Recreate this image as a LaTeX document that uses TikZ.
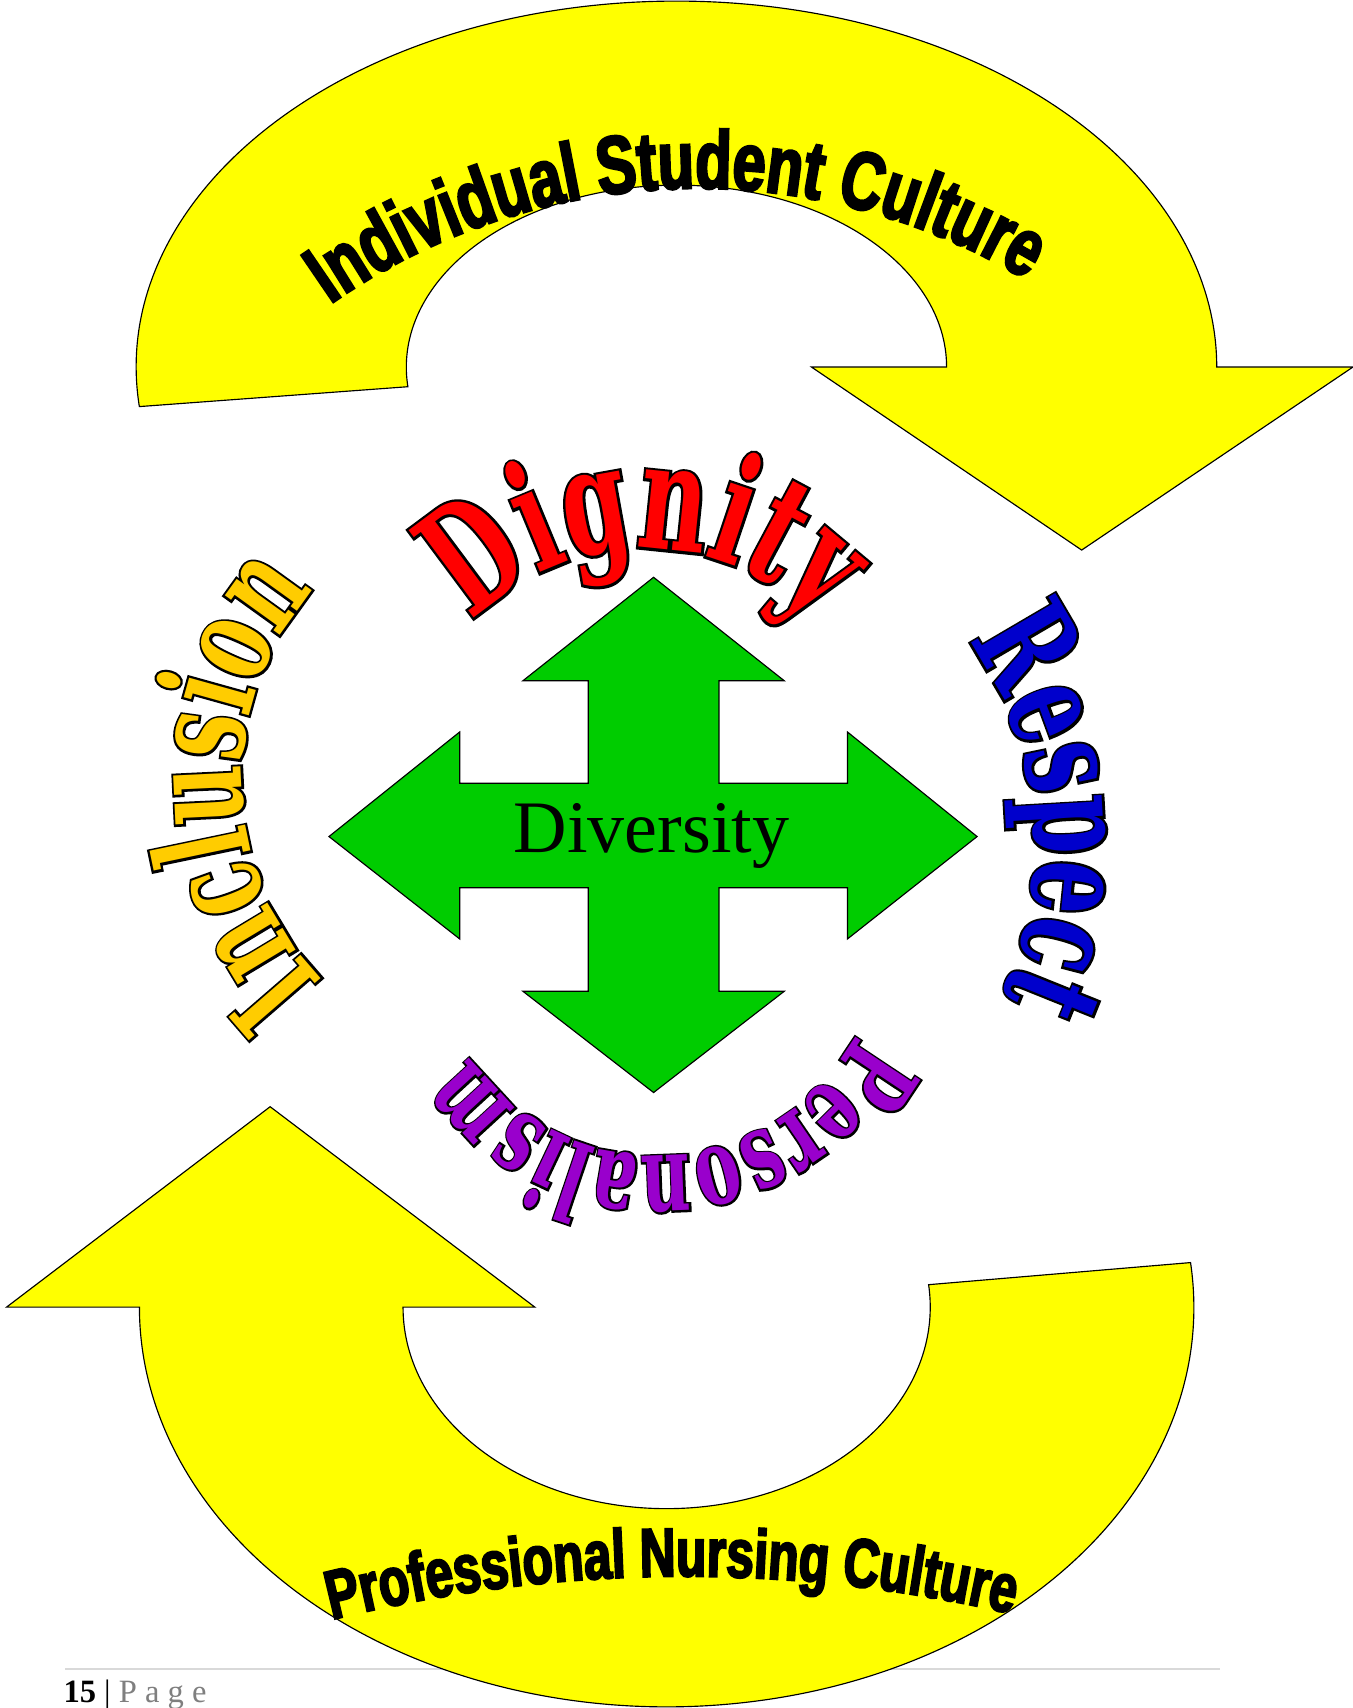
\documentclass[tikz,border=0pt]{standalone}
\usepackage{fontspec}
\usetikzlibrary{decorations.text}
\setmainfont{Liberation Serif}
\newfontfamily\slabfont{DejaVu Serif}[FakeStretch=0.63]
\newfontfamily\slabline{DejaVu Serif}[FakeStretch=0.63,FakeBold=3.5]
\newfontfamily\heavyfont{Liberation Sans}[FakeStretch=0.72,FakeBold=3]
\definecolor{bandyellow}{HTML}{FFFF00}
\definecolor{crossgreen}{HTML}{00CC00}
\definecolor{dignityred}{HTML}{FF0000}
\definecolor{respectblue}{HTML}{0000CC}
\definecolor{personpurple}{HTML}{9900CC}
\definecolor{inclusiongold}{HTML}{FFCC00}
\definecolor{rulegray}{HTML}{D9D9D9}
\definecolor{pagegray}{HTML}{7F7F7F}
\tikzset{
  band/.style={
    draw = black,
    line width = 0.6pt,
    fill = bandyellow
  },
  cross/.style={
    draw = black,
    line width = 0.6pt,
    fill = crossgreen
  },
  culture/.style={
    decorate,
    decoration={text along path, text align=center}
  },
}
% arched word with a black rim: colour, size, word, path
\newcommand{\rimword}[4]{%
  \path[decorate,decoration={text along path,text align=center,text color=black,
    text={|\slabline\bfseries\fontsize{#2}{#2}\selectfont|#3}}] #4;
  \path[decorate,decoration={text along path,text align=center,text color=#1,
    text={|\slabfont\bfseries\fontsize{#2}{#2}\selectfont|#3}}] #4;
}

\begin{document}
\begin{tikzpicture}[x=0.02cm,y=0.02cm]
\useasboundingbox (0,0) rectangle (1242,1568);
% page footer
\draw[rulegray,line width=1pt] (60,36) -- (1120,36);
\node[anchor=base west,inner sep=0,font=\fontsize{17}{17}\selectfont] (pagenum) at (58,5)
  {\textbf{15} | \textcolor{pagegray}{P a g e}};
% the two yellow bands
\draw[band] (621,1231) ++(186.2:496 and 336)
  arc[start angle=186.2,end angle=0,x radius=496,y radius=336]
  -- (1242,1231) -- (993,1063) -- (745,1231) -- (869,1231)
  arc[start angle=0,end angle=186.2,x radius=248,y radius=167] -- cycle;
\draw[band] (612,368) ++(6.4:484 and 367)
  arc[start angle=6.4,end angle=-180,x radius=484,y radius=367]
  -- (6,368) -- (248,552) -- (491,368) -- (370,368)
  arc[start angle=180,end angle=366.4,x radius=242,y radius=185] -- cycle;
% four-way arrow
\draw[cross] (600,1038) -- (720,943) -- (660,943) -- (660,849) -- (778,849)
  -- (778,896) -- (897,800) -- (778,706) -- (778,753) -- (660,753)
  -- (660,658) -- (720,658) -- (600,565) -- (480,658) -- (540,658)
  -- (540,753) -- (422,753) -- (422,706) -- (302,800) -- (422,896)
  -- (422,849) -- (540,849) -- (540,943) -- (480,943) -- cycle;
\node[anchor=base,inner sep=0,font=\fontsize{38.7}{40}\selectfont] (diversity) at (598,785) {Diversity};
% band titles
\path[culture,decoration={text={|\heavyfont\bfseries\fontsize{43}{43}\selectfont|Individual Student Culture}}]
  (640,809) ++(152:586) arc[start angle=152,end angle=32,radius=586];
\path[culture,decoration={text={|\heavyfont\bfseries\fontsize{36}{36}\selectfont|Professional Nursing Culture}}]
  (628,-1210) ++(120.5:1331) arc[start angle=120.5,end angle=60.5,radius=1331];
% words round the arrow
\rimword{dignityred}{78pt}{Dignity}{(592,846) ++(180:218) arc[start angle=180,end angle=0,radius=218]}
\rimword{respectblue}{70pt}{Respect}{(628,790) ++(95.5:322) arc[start angle=95.5,end angle=-84.5,radius=322]}
\rimword{personpurple}{56pt}{Personalism}{(603,712) ++(3.2:205) arc[start angle=3.2,end angle=-176.8,radius=205]}
\rimword{inclusiongold}{68pt}{Inclusion}{(484,852) ++(271.5:262) arc[start angle=271.5,end angle=91.5,radius=262]}
\end{tikzpicture}
\end{document}
